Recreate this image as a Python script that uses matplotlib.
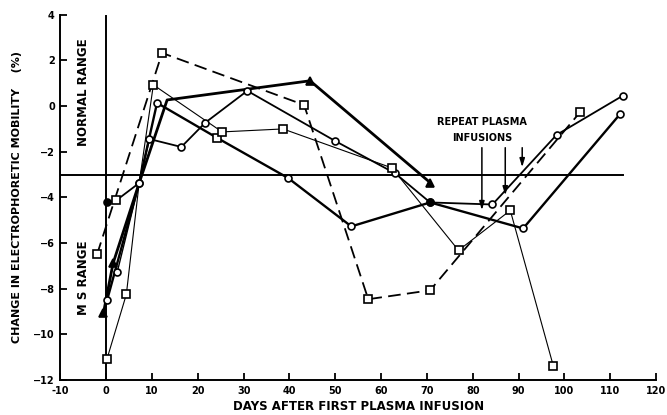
import matplotlib
matplotlib.use("Agg")
import matplotlib.pyplot as plt

# Datos (días, cambio en %)
s1_x = [-2, 12.2, 43.2, 57.2, 70.7, 103.5]
s1_y = [-6.5, 2.33, 0.05, -8.46, -8.07, -0.25]
s1_m = ["s", "s", "s", "s", "s", "s"]

s2_x = [-0.6, 1.5, 7.2, 13.3, 44.5, 70.7]
s2_y = [-9.07, -6.89, -3.37, 0.27, 1.11, -3.35]
s2_m = ["^f", "^f", "", "", "^f", "^f"]

s3_x = [0.2, 7.2, 11.1, 24.2, 39.7, 53.5, 70.7, 91.0, 112.2]
s3_y = [-8.5, -3.37, 0.14, -1.39, -3.15, -5.27, -4.22, -5.36, -0.34]
s3_m = ["o", "", "o", "s", "o", "o", "of", "o", "o"]

s4_x = [0.2, 2.2, 7.2, 9.4, 16.4, 21.6, 30.8, 50.0, 63.1, 70.7, 84.3, 98.3, 112.7]
s4_y = [-4.22, -4.13, -3.37, -1.44, -1.79, -0.73, 0.67, -1.53, -2.95, -4.22, -4.31, -1.26, 0.45]
s4_m = ["of", "s", "o", "o", "o", "o", "o", "o", "o", "of", "o", "o", "o"]

s5_x = [0.2, 4.4, 7.2, 10.3, 25.3, 38.6, 62.4, 76.9, 88.2, 97.6]
s5_y = [-11.06, -8.25, -3.37, 0.93, -1.13, -1.0, -2.71, -6.32, -4.57, -11.39]
s5_m = ["s", "s", "", "s", "s", "s", "s", "s", "s", "s"]

s6_x = [2.4, 7.2]
s6_y = [-7.28, -3.37]
s6_m = ["o", "o"]

series = [
    (s1_x, s1_y, s1_m, (0, (7, 3.5)), 1.3),
    (s2_x, s2_y, s2_m, "-", 2.0),
    (s3_x, s3_y, s3_m, "-", 1.7),
    (s4_x, s4_y, s4_m, "-", 1.3),
    (s5_x, s5_y, s5_m, "-", 0.8),
    (s6_x, s6_y, s6_m, "-", 1.0),
]

arrow_x = [82.0, 87.1, 90.8]
arrow_y = [-4.68, -4.03, -2.8]

plt.rcParams["font.family"] = "DejaVu Sans"
plt.rcParams["font.weight"] = "bold"

fig = plt.figure(figsize=(6.67, 4.15), dpi=100)
ax = fig.add_axes([0.0905, 0.0843, 0.893, 0.88])

for xs, ys, ms, ls, lw in series:
    ax.plot(xs, ys, color="black", linestyle=ls, linewidth=lw, zorder=3)
    for x, y, m in zip(xs, ys, ms):
        if m == "":
            continue
        filled = m.endswith("f")
        mk = m[0]
        size = 5 if mk == "o" else 5.5
        ax.plot(x, y, marker=mk, markersize=size, markeredgewidth=1.2,
                markeredgecolor="black",
                markerfacecolor="black" if filled else "white",
                linestyle="none", zorder=4)

# líneas de referencia
ax.axhline(-3, xmin=0, xmax=(112.9 + 10) / 130, color="black", linewidth=1.4, zorder=2)
ax.plot([0, 0], [-12, 3.95], color="black", linewidth=1.4, zorder=2)

# flechas de infusiones repetidas
for ax_x, ax_y in zip(arrow_x, arrow_y):
    ax.annotate("", xy=(ax_x, ax_y), xytext=(ax_x, -1.7),
                arrowprops=dict(arrowstyle="-|>,head_width=0.15,head_length=0.5",
                                color="black", lw=1.1), zorder=5)
ax.text(82, -0.69, "REPEAT PLASMA", ha="center", va="center", fontsize=7, fontweight="bold")
ax.text(82, -1.39, "INFUSIONS", ha="center", va="center", fontsize=7, fontweight="bold")

ax.text(-5.0, 0.6, "NORMAL RANGE", rotation=90, ha="center", va="center", fontsize=8.5, fontweight="bold")
ax.text(-5.0, -7.5, "M S RANGE", rotation=90, ha="center", va="center", fontsize=8.5, fontweight="bold")

ax.set_xlim(-10, 120)
ax.set_ylim(-12, 4)
ax.set_xticks(range(-10, 121, 10))
ax.set_xticklabels(["-10", "0", "10", "20", "30", "40", "50", "60", "70", "80", "90", "100", "110", "120"])
ax.set_yticks(range(-12, 5, 2))
ax.tick_params(direction="in", length=5, width=1.3, labelsize=7, pad=4)
for lab in ax.get_xticklabels() + ax.get_yticklabels():
    lab.set_fontweight("bold")
ax.spines["top"].set_visible(False)
ax.spines["right"].set_visible(False)
ax.spines["left"].set_linewidth(1.4)
ax.spines["bottom"].set_linewidth(1.4)

ax.set_xlabel("DAYS AFTER FIRST PLASMA INFUSION", fontsize=8.5, fontweight="bold", labelpad=3)
ax.set_ylabel("CHANGE IN ELECTROPHORETIC MOBILITY    (%)", fontsize=8, fontweight="bold", labelpad=8)

fig.savefig("out.png", dpi=100)
